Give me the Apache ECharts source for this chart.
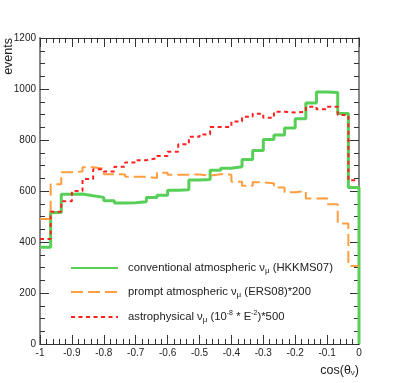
<!DOCTYPE html>
<html>
<head>
<meta charset="utf-8">
<script src="https://cdn.jsdelivr.net/npm/echarts@6/dist/echarts.min.js"></script>
<style>
html, body { margin: 0; padding: 0; background: #fff; }
#main { width: 399px; height: 383px; }
</style>
</head>
<body>
<div id="main"></div>
<script>
// histogram contents, 30 bins in cos(theta) from -1 to 0
var conventional = [379, 516, 587, 588, 581, 575, 562, 553, 554, 558, 575, 583, 603, 605, 643,
                    645, 681, 689, 695, 724, 759, 802, 820, 847, 883, 945, 988, 986, 904, 614];
var prompt = [490, 626, 674, 676, 693, 688, 666, 665, 656, 656, 651, 672, 664, 664, 665,
              660, 666, 664, 636, 621, 634, 630, 614, 595, 600, 571, 572, 548, 473, 306];
var astro = [412, 519, 560, 600, 647, 685, 676, 695, 712, 721, 728, 737, 754, 783, 813,
             822, 851, 851, 873, 891, 903, 887, 911, 908, 911, 930, 921, 930, 898, 642];
var xTicks = [-1, -0.9, -0.8, -0.7, -0.6, -0.5, -0.4, -0.3, -0.2, -0.1, 0];
var yTicks = [0, 200, 400, 600, 800, 1000, 1200];
var legendText = {
    conventional: 'conventional atmospheric ν{sub|μ} (HKKMS07)',
    prompt: 'prompt atmospheric ν{sub|μ} (ERS08)*200',
    astro: 'astrophysical ν{sub|μ} (10{sup|-8} * E{sup|-2})*500'
};

var nBins = conventional.length;
var binEdges = [];
for (var i = 0; i <= nBins; i++) binEdges.push(xTicks[0] + i * (xTicks[xTicks.length - 1] - xTicks[0]) / nBins);

function histPoints(values, drop) {
    var pts = values.map(function (v, i) { return [binEdges[i], v]; });
    pts.push([binEdges[nBins], values[nBins - 1]]);
    if (drop) pts.push([binEdges[nBins], 0]);
    return pts;
}

var font = 'Liberation Sans';
var myChart = echarts.init(document.getElementById('main'));

function xAxisDef(pos) {
    return {
        type: 'value', position: pos,
        min: xTicks[0], max: xTicks[xTicks.length - 1], interval: 0.1,
        axisLine: { show: true, onZero: false, lineStyle: { color: '#333', width: 1 } },
        axisTick: { show: true, inside: true, length: 9, lineStyle: { color: '#333' } },
        minorTick: { show: true, splitNumber: 5, length: 5, lineStyle: { color: '#333' } },
        axisLabel: { show: pos === 'bottom', margin: 4, color: '#222', fontSize: 10, fontFamily: font },
        splitLine: { show: false }
    };
}
function yAxisDef(pos) {
    return {
        type: 'value', position: pos,
        min: yTicks[0], max: yTicks[yTicks.length - 1], interval: 200,
        axisLine: { show: true, onZero: false, lineStyle: { color: '#888', width: 2 } },
        axisTick: { show: true, inside: true, length: 9, lineStyle: { color: '#333' } },
        minorTick: { show: true, splitNumber: 4, length: 5, lineStyle: { color: '#333' } },
        axisLabel: {
            show: pos === 'left', margin: 4, color: '#222', fontSize: 10, fontFamily: font,
            formatter: function (v) { return String(v); }
        },
        splitLine: { show: false }
    };
}

var richStyles = {
    sub: { fontSize: 8, fontFamily: font, color: '#222', verticalAlign: 'bottom', lineHeight: 8 },
    sup: { fontSize: 7, fontFamily: font, color: '#222', verticalAlign: 'top', lineHeight: 7 }
};

function legendDef(name, top) {
    return {
        data: [name], left: 70, top: top, padding: 0,
        itemWidth: 47, itemHeight: 14,
        selectedMode: false,
        itemStyle: { opacity: 0 },
        formatter: function (n) { return legendText[n]; },
        textStyle: { fontSize: 11.3, fontFamily: font, color: '#222', lineHeight: 14, padding: [0, 0, 0, 5], rich: richStyles }
    };
}

var option = {
    animation: false,
    backgroundColor: '#fff',
    grid: { left: 40, right: 40, top: 38, bottom: 39 },
    xAxis: [xAxisDef('bottom'), xAxisDef('top')],
    yAxis: [yAxisDef('left'), yAxisDef('right')],
    legend: [legendDef('conventional', 261), legendDef('prompt', 285), legendDef('astro', 310)],
    graphic: [
        {
            type: 'text', x: 9, y: 38, rotation: Math.PI / 2,
            style: { text: 'events', align: 'right', verticalAlign: 'middle', fontSize: 12.5, fontFamily: font, fill: '#222' }
        },
        {
            type: 'text', x: 359, y: 364,
            style: {
                text: 'cos(θ{s|ν})', align: 'right', verticalAlign: 'top', fontSize: 12.5, fontFamily: font, fill: '#222',
                rich: { s: { fontSize: 8, fontFamily: font, fill: '#222', verticalAlign: 'bottom', lineHeight: 8 } }
            }
        }
    ],
    series: [
        {
            name: 'conventional', type: 'line', step: 'end', symbol: 'none', clip: false,
            data: histPoints(conventional, true),
            lineStyle: { color: '#58cf58', width: 3 }, itemStyle: { color: '#58cf58' }
        },
        {
            name: 'prompt', type: 'line', step: 'end', symbol: 'none', clip: false,
            data: histPoints(prompt, false),
            lineStyle: { color: '#ff9e40', width: 2, type: [12, 5] }, itemStyle: { color: '#ff9e40' }
        },
        {
            name: 'astro', type: 'line', step: 'end', symbol: 'none', clip: false,
            data: histPoints(astro, false),
            lineStyle: { color: '#ff2020', width: 2, type: [4, 3.5] }, itemStyle: { color: '#ff2020' }
        }
    ]
};
option && myChart.setOption(option);
</script>
</body>
</html>
